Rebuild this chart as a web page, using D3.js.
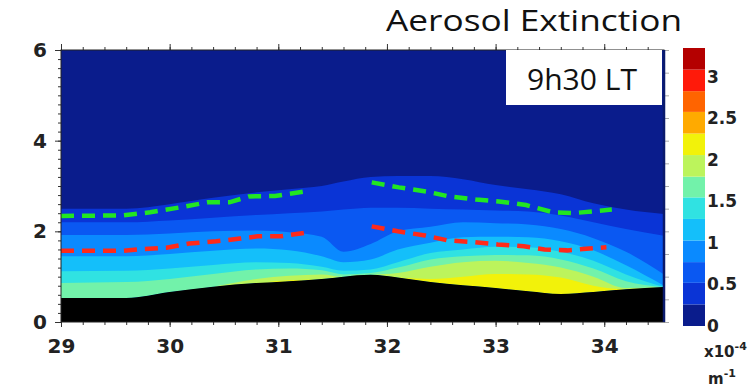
<!DOCTYPE html>
<html>
<head>
<meta charset="utf-8">
<script src="https://cdn.jsdelivr.net/npm/d3@7"></script>
<style>
  body { margin: 0; background: #fff; }
  svg { display: block; }
</style>
</head>
<body>
<div id="chart"></div>
<script>
// longitude columns and layer tops (km)
const lon     = [29.0, 29.6, 30.0, 30.4, 30.8, 31.1, 31.4, 31.6, 31.85, 32.1, 32.4, 32.7, 33.0, 33.3, 33.6, 33.9, 34.2, 34.55]
const terrain = [0.53, 0.53, 0.66, 0.78, 0.86, 0.90, 0.95, 1.00, 1.04, 0.98, 0.88, 0.81, 0.75, 0.68, 0.62, 0.66, 0.72, 0.77]
// altitude where extinction drops below each colour level
const top1 = [2.50, 2.50, 2.60, 2.74, 2.86, 2.93, 3.00, 3.10, 3.20, 3.22, 3.22, 3.15, 3.02, 2.93, 2.82, 2.62, 2.48, 2.38]
const top2 = [2.20, 2.20, 2.24, 2.30, 2.36, 2.40, 2.44, 2.48, 2.52, 2.52, 2.50, 2.48, 2.46, 2.44, 2.35, 2.20, 2.05, 1.90]
const top3 = [1.92, 1.92, 1.95, 2.00, 2.02, 1.98, 1.88, 1.55, 1.72, 2.00, 2.10, 2.20, 2.18, 2.15, 2.05, 1.85, 1.55, 1.05]
const top4 = [1.45, 1.45, 1.50, 1.57, 1.62, 1.58, 1.45, 1.32, 1.38, 1.60, 1.75, 1.87, 1.88, 1.87, 1.78, 1.58, 1.25, 0.80]
const top5 = [1.12, 1.13, 1.18, 1.26, 1.32, 1.30, 1.22, 1.13, 1.16, 1.32, 1.52, 1.60, 1.66, 1.65, 1.55, 1.35, 1.05, 0.70]
const top6 = [0.86, 0.88, 0.95, 1.06, 1.16, 1.18, 1.14, 1.05, 1.08, 1.20, 1.38, 1.45, 1.48, 1.47, 1.38, 1.18, 0.90, 0.60]
const top7 = [0.50, 0.50, 0.60, 0.75, 0.95, 1.02, 1.05, 0.98, 1.00, 1.08, 1.22, 1.32, 1.35, 1.30, 1.20, 1.00, 0.75, 0.50]
const top8 = [0.00, 0.00, 0.00, 0.00, 0.00, 0.92, 0.00, 0.00, 0.00, 0.90, 0.95, 1.00, 1.06, 1.05, 0.98, 0.80, 0.65, 0.00]

// dashed layer lines (null = gap)
const greenLon = [29.0, 29.57, 29.82, 30.1, 30.35, 30.55, 30.73, 30.97, 31.25, 31.5, 31.86, 32.11, 32.36, 32.57, 32.82, 33.03, 33.28, 33.53, 33.71, 34.07]
const greenAlt = [2.34, 2.35, 2.42, 2.53, 2.64, 2.64, 2.77, 2.78, 2.88, null, 3.08, 2.97, 2.88, 2.77, 2.70, 2.66, 2.58, 2.42, 2.40, 2.48]
const redLon = [29.0, 29.57, 29.7, 29.97, 30.18, 30.43, 30.65, 30.81, 31.02, 31.25, 31.5, 31.86, 32.1, 32.35, 32.56, 32.81, 33.02, 33.26, 33.45, 33.66, 34.02]
const redAlt = [1.57, 1.57, 1.60, 1.64, 1.73, 1.78, 1.84, 1.89, 1.89, 1.97, null, 2.11, 2.00, 1.91, 1.80, 1.76, 1.71, 1.67, 1.60, 1.58, 1.65]

// colour bar
const cbEdges = [0, 0.26, 0.52, 0.77, 1.03, 1.29, 1.55, 1.8, 2.06, 2.32, 2.58, 2.83, 3.09, 3.35]
const cbColors = ["#0a1c8c", "#0a34d6", "#0a58f2", "#0a8aff", "#14bffa", "#30e2e2", "#72f2aa",
                  "#bcf45c", "#f2f20a", "#ffaa00", "#ff6400", "#ff1a0a", "#b40000"]
const cbTicks = [0, 0.5, 1, 1.5, 2, 2.5, 3]
const xTicks = [29, 30, 31, 32, 33, 34]
const yTicks = [0, 2, 4, 6]

const W = 751, H = 390
const svg = d3.select("#chart").append("svg").attr("width", W).attr("height", H)

const x = d3.scaleLinear().domain([29, 34.55]).range([61, 664])
const y = d3.scaleLinear().domain([0, 6]).range([322, 50])

svg.append("clipPath").attr("id", "plotclip")
  .append("rect").attr("x", 61).attr("y", 50).attr("width", 603).attr("height", 272)

const plot = svg.append("g").attr("clip-path", "url(#plotclip)")

// background level
plot.append("rect").attr("x", 61).attr("y", 50).attr("width", 603).attr("height", 272)
  .attr("fill", cbColors[0])

const tops = [top1, top2, top3, top4, top5, top6, top7, top8]
const cols = lon.map((l, i) => ({ l, t: terrain[i] }))

tops.forEach((tp, k) => {
  const area = d3.area()
    .x(d => x(d.l))
    .y0(d => y(d.t))
    .y1((d, i) => y(Math.max(tp[i], d.t)))
    .curve(d3.curveMonotoneX)
  plot.append("path").datum(cols).attr("d", area).attr("fill", cbColors[k + 1])
})

// terrain
plot.append("path").datum(cols)
  .attr("d", d3.area().x(d => x(d.l)).y0(y(0)).y1(d => y(d.t)).curve(d3.curveMonotoneX))
  .attr("fill", "#000")

// dashed lines
function dashLine(lons, alts, color) {
  const pts = lons.map((l, i) => [l, alts[i]])
  plot.append("path").datum(pts)
    .attr("d", d3.line().defined(d => d[1] != null).x(d => x(d[0])).y(d => y(d[1])))
    .attr("fill", "none").attr("stroke", color).attr("stroke-width", 4.5)
    .attr("stroke-dasharray", "13,8")
}
dashLine(greenLon, greenAlt, "#22e622")
dashLine(redLon, redAlt, "#ff2a1a")

// axes
const minorX = d3.range(29, 34.55, 0.2)
const minorY = d3.range(0, 6.01, 0.2)

function clean(g) { g.select(".domain").remove(); g.selectAll("line").attr("stroke", "#333") }

svg.append("g").attr("transform", "translate(0,50)")
  .call(d3.axisTop(x).tickValues(minorX).tickSize(3).tickFormat(""))
  .call(clean)
svg.append("g").attr("transform", "translate(0,50)")
  .call(d3.axisTop(x).tickValues(xTicks).tickSize(6).tickFormat(""))
  .call(clean)
svg.append("g").attr("transform", "translate(0,322)")
  .call(d3.axisBottom(x).tickValues(minorX).tickSize(3).tickFormat(""))
  .call(clean)
svg.append("g").attr("transform", "translate(0,322)")
  .call(d3.axisBottom(x).tickValues(xTicks).tickSize(5).tickPadding(12).tickFormat(d3.format("d")))
  .call(clean)
  .selectAll("text")
  .style("font-family", "'DejaVu Sans', sans-serif").style("font-weight", "bold")
  .style("font-size", "20px").attr("fill", "#222")

svg.append("g").attr("transform", "translate(61,0)")
  .call(d3.axisLeft(y).tickValues(minorY).tickSize(3).tickFormat(""))
  .call(clean)
svg.append("g").attr("transform", "translate(61,0)")
  .call(d3.axisLeft(y).tickValues(yTicks).tickSize(6).tickPadding(8).tickFormat(d3.format("d")))
  .call(clean)
  .selectAll("text")
  .style("font-family", "'DejaVu Sans', sans-serif").style("font-weight", "bold")
  .style("font-size", "20px").attr("fill", "#222")

// right side ticks
svg.append("g").attr("transform", "translate(664,0)")
  .call(d3.axisRight(y).tickValues(d3.range(0, 6.01, 0.5)).tickSize(5).tickFormat(""))
  .call(g => { g.select(".domain").remove(); g.selectAll("line").attr("stroke", "#aaa") })

// frame
svg.append("rect").attr("x", 61).attr("y", 50).attr("width", 603).attr("height", 272)
  .attr("fill", "none").attr("stroke", "#222").attr("stroke-width", 1)
svg.append("line").attr("x1", 664).attr("x2", 664).attr("y1", 50).attr("y2", 322)
  .attr("stroke", "#0a1a6c").attr("stroke-width", 2.5)

// label box
svg.append("rect").attr("x", 506).attr("y", 50).attr("width", 156).attr("height", 55).attr("fill", "#fff")
svg.append("text").attr("x", 582).attr("y", 90).attr("text-anchor", "middle")
  .style("font-family", "'Open Sans', sans-serif").style("font-size", "29px").attr("fill", "#111")
  .attr("textLength", 110).attr("lengthAdjust", "spacingAndGlyphs")
  .text("9h30 LT")

// title
svg.append("text").attr("x", 386).attr("y", 31)
  .style("font-family", "'Open Sans', sans-serif").style("font-size", "29px").attr("fill", "#111")
  .attr("textLength", 296).attr("lengthAdjust", "spacingAndGlyphs")
  .text("Aerosol Extinction")

// colour bar
const cb = d3.scaleLinear().domain([0, 3.35]).range([326, 48])
svg.append("g").selectAll("rect")
  .data(cbColors)
  .join("rect")
  .attr("x", 683).attr("width", 22)
  .attr("y", (c, i) => cb(cbEdges[i + 1]))
  .attr("height", (c, i) => cb(cbEdges[i]) - cb(cbEdges[i + 1]))
  .attr("fill", c => c)

svg.append("g").attr("transform", "translate(705,0)")
  .call(d3.axisRight(cb).tickValues(cbTicks).tickSize(0).tickPadding(2).tickFormat(d3.format("")))
  .call(g => g.select(".domain").remove())
  .selectAll("text")
  .style("font-family", "'DejaVu Sans', sans-serif").style("font-weight", "bold")
  .style("font-size", "17px").attr("fill", "#222")

const unit = svg.append("g")
  .style("font-family", "'DejaVu Sans', sans-serif").style("font-weight", "bold").attr("fill", "#222")
const u1 = unit.append("text").attr("x", 704).attr("y", 357).style("font-size", "15px")
u1.append("tspan").text("x10")
u1.append("tspan").attr("dy", -7).style("font-size", "11px").text("-4")
const u2 = unit.append("text").attr("x", 708).attr("y", 384).style("font-size", "15px")
u2.append("tspan").text("m")
u2.append("tspan").attr("dy", -7).style("font-size", "11px").text("-1")
</script>
</body>
</html>
